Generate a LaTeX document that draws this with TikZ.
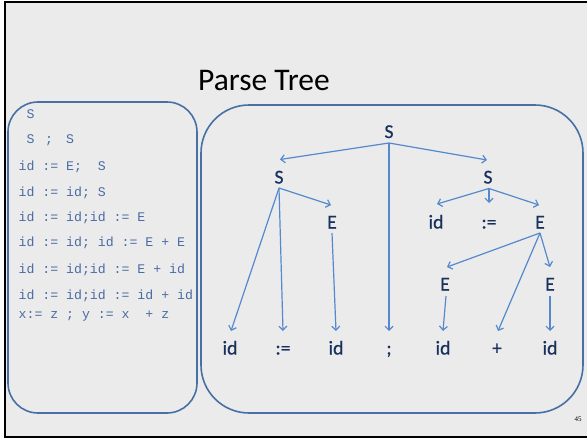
\documentclass[tikz,border=0pt]{standalone}
\usepackage{fontspec}
\setmainfont{Carlito}
\newfontfamily\treefont[FakeBold=0.6]{Carlito}
\newfontfamily\codefont{Liberation Mono}
\newfontfamily\numfont{Liberation Serif}
\usetikzlibrary{arrows.meta}

\definecolor{slidebg}{RGB}{235,235,235}
\definecolor{boxline}{RGB}{72,112,165}
\definecolor{codeblue}{RGB}{74,108,165}
\definecolor{treetext}{RGB}{24,48,92}
\definecolor{edgeblue}{RGB}{84,138,205}

\tikzset{
  panel/.style={draw=boxline, line width=1.6pt},
  codeline/.style={anchor=base west, inner sep=0pt, text=codeblue,
    font=\codefont\fontsize{13.2}{15}\selectfont},
  sym/.style={anchor=base, inner sep=0pt, text=treetext,
    font=\treefont\fontsize{19.6}{22}\selectfont},
  edge/.style={draw=edgeblue, line width=1.2pt,
    -{Straight Barb[length=4pt,width=8pt,line width=1.2pt]}},
}

\begin{document}
\begin{tikzpicture}[x=1pt,y=-1pt]
  \useasboundingbox (0,0) rectangle (587,439);
  % slide area and its frame
  \fill[slidebg] (5,2) rectangle (587,437);
  \draw[black, line width=2pt] (587,2) -- (5,2) -- (5,437) -- (587,437);

  % title
  \node[anchor=base, inner sep=0pt, font=\fontsize{31.5}{36}\selectfont] (title) at (264,90.5) {Parse Tree};

  % panels
  \draw[panel, rounded corners=30pt] (8,102) rectangle (197,413);
  \draw[panel, rounded corners=48pt] (201,105) rectangle (583,413);

  % derivation steps
  \node[codeline] (d1) at (18.5,118) {~S};
  \node[codeline] (d2) at (18.5,143) {~S\hspace{10.6pt};\hspace{13pt}S};
  \node[codeline] (d3) at (18.5,170) {id~:=~E;~~S};
  \node[codeline] (d4) at (18.5,196) {id~:=~id;~S};
  \node[codeline] (d5) at (18.5,221) {id~:=~id;id~:=~E};
  \node[codeline] (d6) at (18.5,246) {id~:=~id;~id~:=~E~+~E};
  \node[codeline] (d7) at (18.5,273) {id~:=~id;id~:=~E~+~id};
  \node[codeline] (d8) at (18.5,299) {id~:=~id;id~:=~id~+~id};
  \node[codeline] (d9) at (18.5,318) {x:=~z~;~y~:=~x~~+~z};

  % tree symbols
  \node[sym] (r)   at (389,138)   {S};
  \node[sym] (sL)  at (279,183.5) {S};
  \node[sym] (sR)  at (488,183.5) {S};
  \node[sym] (eL)  at (332,228.5) {E};
  \node[sym] (idR) at (436,228.5) {id};
  \node[sym] (asR) at (489,228.5) {:=};
  \node[sym] (eR)  at (540,228.5) {E};
  \node[sym] (e2L) at (445,290.5) {E};
  \node[sym] (e2R) at (550,290.5) {E};
  \node[sym] (b1)  at (230,354.5) {id};
  \node[sym] (b2)  at (283,354.5) {:=};
  \node[sym] (b3)  at (336,354.5) {id};
  \node[sym] (b4)  at (389,354.5) {;};
  \node[sym] (b5)  at (443,354.5) {id};
  \node[sym] (b6)  at (497,354.5) {+};
  \node[sym] (b7)  at (550,354.5) {id};

  % tree edges
  \draw[edge] ([yshift=-5pt]r.base) -- ([yshift=24pt,xshift=1pt]sL.base);
  \draw[edge] ([yshift=-5pt]r.base) -- ([yshift=23.5pt,xshift=-1pt]sR.base);
  \draw[edge] ([yshift=-5pt]r.base) -- ([yshift=23.5pt]b4.base);

  \draw[edge] ([yshift=-4.5pt]sL.base) -- ([yshift=23.5pt,xshift=1pt]b1.base);
  \draw[edge] ([yshift=-4.5pt]sL.base) -- ([yshift=23.5pt]b2.base);
  \draw[edge] ([yshift=-4.5pt]sL.base) -- ([yshift=23.5pt,xshift=-1pt]eL.base);
  \draw[edge] ([yshift=-4.5pt]eL.base) -- ([yshift=23.5pt]b3.base);

  \draw[edge] ([yshift=-5pt,xshift=1pt]sR.base) -- ([yshift=24.5pt,xshift=1pt]idR.base);
  \draw[edge] ([yshift=-5pt,xshift=1pt]sR.base) -- ([yshift=25.5pt]asR.base);
  \draw[edge] ([yshift=-5pt,xshift=1pt]sR.base) -- ([yshift=23.5pt,xshift=-1pt]eR.base);

  \draw[edge] ([yshift=-4.5pt]eR.base) -- ([yshift=23.5pt,xshift=2pt]e2L.base);
  \draw[edge] ([yshift=-4.5pt]eR.base) -- ([yshift=23.5pt,xshift=1pt]b6.base);
  \draw[edge] ([yshift=-4.5pt]eR.base) -- ([yshift=23.5pt]e2R.base);
  \draw[edge] ([yshift=-5.5pt,xshift=1pt]e2L.base) -- ([yshift=23.5pt]b5.base);
  \draw[edge] ([yshift=-5.5pt]e2R.base) -- ([yshift=23.5pt]b7.base);

  % page number
  \node[anchor=base, inner sep=0pt, font=\numfont\fontsize{7}{8}\selectfont] (pg) at (578,421) {45};
\end{tikzpicture}
\end{document}
